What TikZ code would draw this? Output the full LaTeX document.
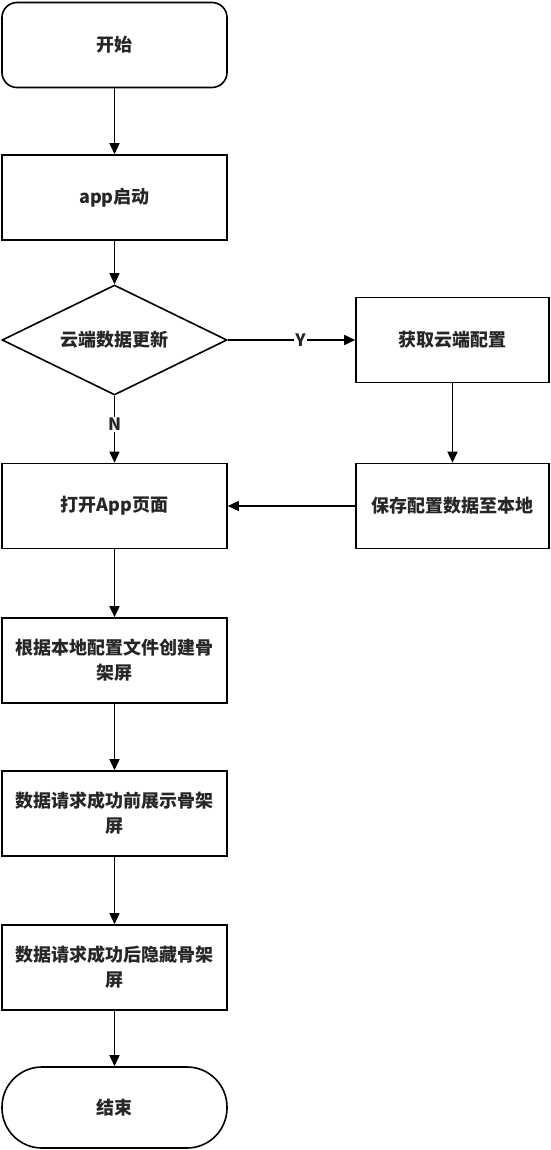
\documentclass[tikz,border=0pt]{standalone}
\usepackage{fontspec}
\setmainfont{Noto Sans CJK SC}
\usetikzlibrary{shapes.geometric,arrows.meta}
\begin{document}
\begin{tikzpicture}[x=1pt,y=-1pt,
  every node/.style={font=\fontsize{18}{25}\selectfont\bfseries, text=black!85},
  box/.style={draw, line width=1.6pt, minimum width=225pt, minimum height=85pt, inner sep=0pt, align=center},
  sbox/.style={box, minimum width=193pt},
  term/.style={box, rounded corners=15pt},
  stad/.style={box, rounded corners=40pt, minimum height=81pt},
  dec/.style={draw, line width=1.6pt, diamond, minimum width=225pt, minimum height=110pt, inner sep=0pt, aspect=2.05},
  conn/.style={line width=1.6pt, -{Triangle[length=11pt,width=10pt]}},
  lbl/.style={fill=white, inner sep=1pt, font=\fontsize{17}{19}\selectfont\bfseries}
]
\useasboundingbox (0,0) rectangle (550,1150);
\node[term] (start) at (114.5,45) {开始};
\node[box] (app) at (114.5,197.5) {app启动};
\node[dec] (chk) at (114.5,340) {云端数据更新};
\node[sbox] (fetch) at (452.5,340) {获取云端配置};
\node[sbox] (save) at (452.5,506) {保存配置数据至本地};
\node[box] (open) at (114.5,506) {打开App页面};
\node[box] (gen) at (114.5,660.5) {根据本地配置文件创建骨\\架屏};
\node[box] (show) at (114.5,813.5) {数据请求成功前展示骨架\\屏};
\node[box] (hide) at (114.5,967.5) {数据请求成功后隐藏骨架\\屏};
\node[stad] (end) at (114.5,1107.5) {结束};
\draw[conn] (start) -- (app);
\draw[conn] (app) -- (chk);
\draw[conn] (chk.east) -- node[lbl, pos=0.57] {Y} (fetch.west);
\draw[conn] (chk.south) -- node[lbl, pos=0.43] {N} (open.north);
\draw[conn] (fetch) -- (save);
\draw[conn] (save) -- (open);
\draw[conn] (open) -- (gen);
\draw[conn] (gen) -- (show);
\draw[conn] (show) -- (hide);
\draw[conn] (hide) -- (end);
\end{tikzpicture}
\end{document}
